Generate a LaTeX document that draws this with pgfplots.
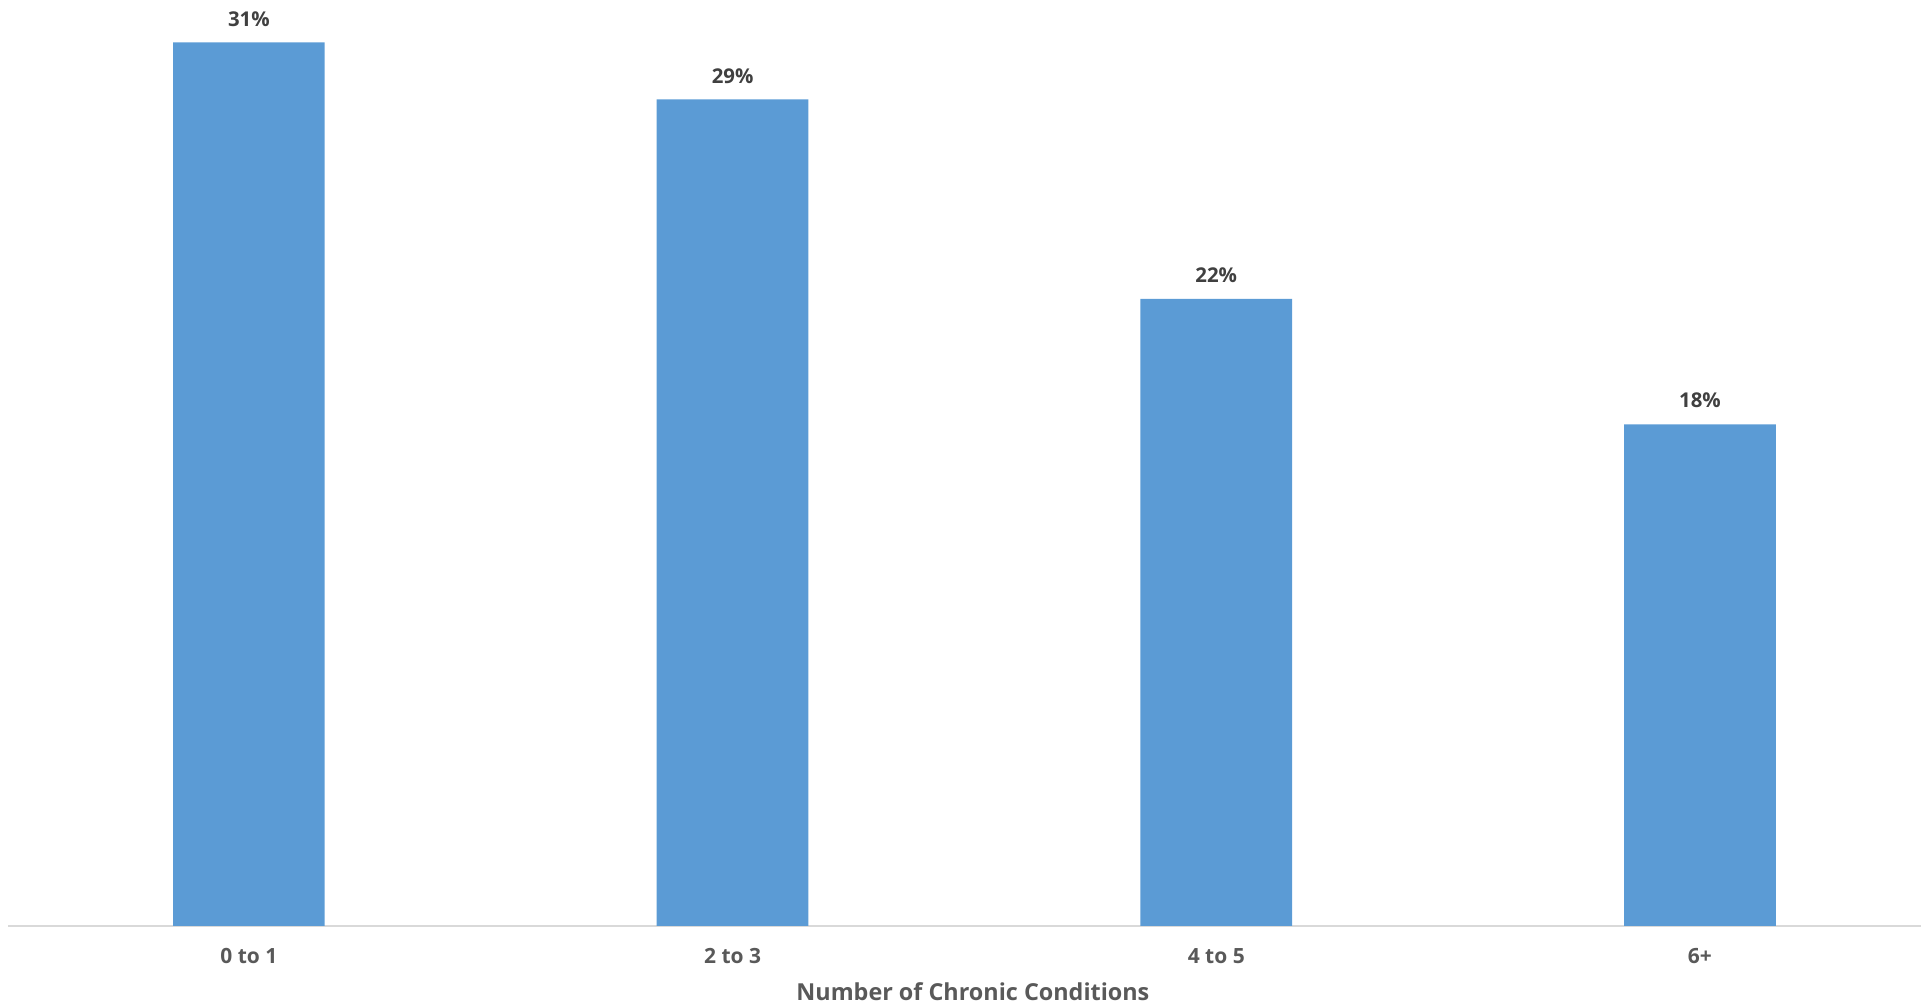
\documentclass[border=0pt]{standalone}
\usepackage{fontspec}
\setmainfont{Open Sans}
\usepackage{pgfplots}
\pgfplotsset{compat=1.18}

\definecolor{barblue}{HTML}{5B9BD5}
\definecolor{axisgray}{HTML}{D9D9D9}
\definecolor{valuegray}{HTML}{404040}
\definecolor{labelgray}{HTML}{595959}

\begin{document}
\begin{tikzpicture}
\begin{axis}[
  scale only axis,
  width=191.3mm, height=92.6mm,
  xmin=-0.498, xmax=3.457,
  ymin=0, ymax=32.49,
  clip=false,
  ybar, bar width=15.17mm,
  axis x line*=bottom,
  hide y axis,
  x axis line style={draw=axisgray, line width=0.2mm, -},
  xtick=data,
  xticklabels={0 to 1, 2 to 3, 4 to 5, 6+},
  major tick length=0pt,
  xticklabel style={anchor=center, yshift=-3.0mm, text=labelgray,
    font=\fontsize{5.97pt}{7pt}\selectfont\bfseries},
  xlabel={Number of Chronic Conditions},
  xlabel style={at={(axis description cs:0.5044,-0.0713)}, anchor=center,
    text=labelgray, font=\fontsize{6.65pt}{8pt}\selectfont\bfseries},
  /pgf/number format/assume math mode=true,
  nodes near coords={\pgfmathprintnumber[fixed,precision=0,assume math mode=true]{\pgfplotspointmeta}\%},
  every node near coord/.append style={anchor=center, yshift=2.37mm,
    text=valuegray, font=\fontsize{5.8pt}{7pt}\selectfont\bfseries},
]
\addplot[fill=barblue, draw=none] coordinates {(0,31.0) (1,29.0) (2,22.0) (3,17.6)};
\end{axis}
\pgfresetboundingbox
\path[use as bounding box] (current axis.south west) ++(-0.8mm,-7.9mm) rectangle (current axis.north east);
\end{tikzpicture}
\end{document}
